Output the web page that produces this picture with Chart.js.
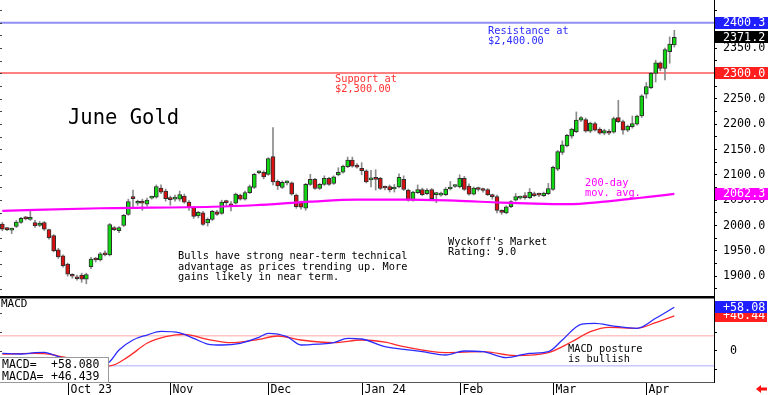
<!DOCTYPE html>
<html><head><meta charset="utf-8">
<script src="https://cdn.jsdelivr.net/npm/chart.js@4.4.1/dist/chart.umd.min.js"></script>
<style>
html,body{margin:0;padding:0;background:#fff;}
#wrap{position:relative;width:768px;height:395px;overflow:hidden;background:#fff;font-family:'DejaVu Sans Mono',monospace;}
#c1{position:absolute;left:0;top:0;}
#c2{position:absolute;left:0;top:297px;}
.t{position:absolute;font-size:10.3px;line-height:10.4px;white-space:pre;color:#000;}
#leg{position:absolute;left:-1px;top:357px;width:108px;height:24px;background:#fff;border:1px solid #9a9a9a;font-size:11.5px;line-height:12px;}
#leg span{position:absolute;white-space:pre;}
</style></head><body>
<div id="wrap">
<canvas id="c1" width="768" height="297"></canvas>
<canvas id="c2" width="768" height="98"></canvas>
<div class="t" style="left:68px;top:107px;font-size:20.5px;line-height:21px;">June Gold</div>
<div class="t" style="left:488px;top:25px;color:#2b2bff;">Resistance at
$2,400.00</div>
<div class="t" style="left:335px;top:73px;color:#ff3030;">Support at
$2,300.00</div>
<div class="t" style="left:585px;top:177px;color:#ff00ff;">200-day
mov. avg.</div>
<div class="t" style="left:178px;top:250px;line-height:10.5px;">Bulls have strong near-term technical
advantage as prices trending up. More
gains likely in near term.</div>
<div class="t" style="left:448px;top:236px;">Wyckoff's Market
Rating: 9.0</div>
<div class="t" style="left:1px;top:299px;font-size:11px;">MACD</div>
<div class="t" style="left:568px;top:343px;">MACD posture
is bullish</div>
<div id="leg"><span style="left:2px;top:0px">MACD=</span><span style="left:51px;top:0px">+58.080</span><span style="left:2px;top:12px">MACDA=</span><span style="left:51px;top:12px">+46.439</span></div>
</div>
<script>
// ---- trading sessions (categories) ----
const sessionMonths = ['2023-09','2023-10','2023-11','2023-12','2024-01','2024-02','2024-03','2024-04'];
const sessionDays = [
  [12,13,14,15,18,19,20,21,22,25,26,27,28,29],
  [2,3,4,5,6,9,10,11,12,13,16,17,18,19,20,23,24,25,26,27,30,31],
  [1,2,3,6,7,8,9,10,13,14,15,16,17,20,21,22,24,27,28,29,30],
  [1,4,5,6,7,8,11,12,13,14,15,18,19,20,21,22,26,27,28,29],
  [2,3,4,5,8,9,10,11,12,16,17,18,19,22,23,24,25,26,29,30,31],
  [1,2,5,6,7,8,9,12,13,14,15,16,20,21,22,23,26,27,28,29],
  [1,4,5,6,7,8,11,12,13,14,15,18,19,20,21,22,25,26,27,28],
  [1,2,3,4,5,8,9,10,11,12,15,16,17,18,19]
];
const monthTickDates = ['2023-10-02','2023-11-01','2023-12-01','2024-01-02','2024-02-01','2024-03-01','2024-04-01'];
const monthTickLabels = ['Oct 23','Nov','Dec','Jan 24','Feb','Mar','Apr'];

// ---- daily June gold OHLC (Sep 12 2023 .. Apr 9 2024) ----
const opens = [
2003,1994,1991,1998,2006,2015,2012,2006,2000,2006,
1992,1980,1952,1940,1924,1902,1899,1902,1894,1919,
1934,1932,1946,1942,1995,1990,2000,2022,2055,2044,
2048,2042,2054,2056,2074,2068,2052,2052,2052,2058,
2046,2036,2019,2025,2005,2012,2027,2024,2047,2041,
2044,2060,2052,2065,2075,2104,2105,2101,2136,2087,
2075,2084,2084,2060,2045,2034,2081,2091,2073,2081,
2093,2083,2100,2105,2116,2129,2119,2113,2108,2090,
2092,2093,2075,2077,2072,2076,2091,2070,2050,2065,
2071,2063,2071,2061,2060,2061,2072,2077,2076,2093,
2078,2062,2074,2072,2071,2058,2057,2028,2025,2037,
2050,2054,2056,2055,2063,2061,2059,2063,2071,2111,
2144,2157,2176,2185,2208,2209,2186,2201,2190,2182,
2186,2184,2213,2205,2188,2195,2200,2216,2259,2272,
2300,2321,2310,2343,2356];
const highs = [
2006,1996,1995,2010,2016,2018,2028,2010,2008,2008,
1993,1982,1955,1942,1926,1905,1902,1906,1906,1937,
1937,1947,1950,2004,1998,1998,2022,2052,2070,2050,
2052,2054,2058,2080,2080,2072,2058,2060,2068,2062,
2049,2038,2028,2028,2015,2030,2030,2050,2050,2047,
2064,2062,2068,2080,2103,2108,2108,2134,2193,2090,
2088,2088,2086,2062,2048,2083,2101,2093,2083,2098,
2095,2098,2114,2119,2135,2135,2122,2124,2110,2109,
2110,2095,2078,2080,2081,2102,2098,2072,2068,2080,
2074,2073,2073,2065,2066,2075,2087,2080,2100,2097,
2082,2076,2076,2074,2073,2062,2060,2031,2039,2049,
2063,2058,2065,2073,2066,2064,2066,2083,2117,2148,
2167,2180,2192,2224,2215,2212,2204,2204,2193,2190,
2189,2214,2247,2208,2198,2216,2218,2258,2282,2302,
2326,2323,2350,2372,2385];
const lows = [
1990,1990,1984,1996,2004,2011,2010,1996,1998,1990,
1973,1948,1935,1918,1900,1896,1892,1888,1885,1915,
1928,1930,1940,1940,1990,1986,1998,2020,2034,2040,
2030,2038,2052,2054,2063,2048,2040,2048,2048,2044,
2030,2014,2015,2000,1999,2010,2020,2022,2040,2029,
2042,2050,2050,2063,2073,2102,2092,2099,2080,2071,
2073,2080,2060,2034,2032,2030,2079,2071,2071,2079,
2079,2081,2098,2103,2114,2115,2113,2100,2084,2076,
2070,2071,2070,2066,2066,2074,2069,2048,2048,2063,
2059,2061,2050,2045,2058,2059,2070,2075,2074,2069,
2060,2060,2068,2066,2059,2052,2025,2022,2023,2035,
2048,2052,2052,2053,2057,2057,2057,2061,2069,2108,
2140,2155,2172,2183,2205,2184,2183,2186,2180,2179,
2179,2182,2203,2180,2185,2192,2198,2213,2251,2270,
2283,2305,2287,2320,2352];
const closes = [
1993,1992,1993,2007,2014,2013,2015,1999,2005,1993,
1976,1950,1938,1921,1904,1900,1895,1894,1903,1934,
1932,1944,1942,2002,1992,1996,2020,2047,2053,2046,
2044,2050,2056,2077,2066,2053,2051,2054,2061,2046,
2036,2018,2026,2002,2012,2028,2022,2046,2045,2039,
2062,2052,2065,2077,2101,2106,2096,2132,2086,2078,
2085,2086,2062,2037,2036,2081,2091,2073,2081,2093,
2081,2096,2105,2117,2129,2117,2115,2108,2086,2092,
2091,2073,2074,2070,2073,2095,2071,2050,2066,2071,
2061,2070,2053,2063,2063,2072,2076,2078,2093,2071,
2062,2074,2071,2069,2061,2057,2030,2026,2037,2047,
2057,2056,2055,2066,2059,2060,2064,2073,2115,2146,
2159,2178,2190,2208,2213,2186,2202,2188,2182,2187,
2182,2211,2205,2188,2196,2201,2216,2256,2274,2300,
2321,2310,2347,2358,2371.2];

// ---- 200-day moving average (read points) ----
const maDates = ['2023-09-12','2023-10-11','2023-11-14','2023-11-28','2023-12-14','2023-12-29','2024-01-17','2024-01-31','2024-02-14','2024-02-26','2024-03-06','2024-03-18','2024-03-26','2024-04-02','2024-04-09'];
const maValues = [2029,2034,2037,2040,2047,2051,2051,2049,2045,2043,2042,2047,2053,2057,2062.3];

// ---- MACD (read points) ----
const macdDates = ['2023-09-12','2023-09-18','2023-09-21','2023-09-25','2023-09-26','2023-09-28','2023-10-03','2023-10-06','2023-10-10','2023-10-13','2023-10-17','2023-10-20','2023-10-25','2023-10-30','2023-11-03','2023-11-08','2023-11-13','2023-11-16','2023-11-22','2023-11-29','2023-12-01','2023-12-07','2023-12-12','2023-12-18','2023-12-21','2023-12-27','2024-01-02','2024-01-09','2024-01-16','2024-01-22','2024-01-29','2024-02-02','2024-02-08','2024-02-15','2024-02-23','2024-02-29','2024-03-05','2024-03-11','2024-03-14','2024-03-20','2024-03-27','2024-04-03','2024-04-09'];
const macdValues = [-3.4,-4.3,-2.5,-2.0,-3.4,-7.8,-16,-25,-24,-14.5,1,14.4,21,26,24,16.6,9,7.7,10,18,23.3,18.8,7.7,9,10.8,16.6,15.7,5.5,2,-1.2,-5.6,-0.3,-1.2,-9.2,-3.4,-1.2,14.4,35.3,36.6,33,30,43.3,58.08];
const signalDates = ['2023-09-12','2023-09-21','2023-09-26','2023-09-28','2023-10-04','2023-10-09','2023-10-13','2023-10-19','2023-10-25','2023-10-31','2023-11-06','2023-11-13','2023-11-20','2023-11-29','2023-12-05','2023-12-12','2023-12-21','2024-01-02','2024-01-09','2024-01-16','2024-01-29','2024-02-08','2024-02-20','2024-02-29','2024-03-07','2024-03-13','2024-03-19','2024-03-27','2024-04-03','2024-04-09'];
const signalValues = [-4.3,-3.4,-4.3,-7,-12,-17,-20,-7.8,10,18.8,22,15.3,10.8,15.3,19.7,14.4,10.8,14.4,11.5,5.5,-2.5,-1.2,-6.5,-2.5,12,25.5,31.3,30,37.5,46.44];

// ---- reference levels & value tags ----
const resistanceLevel = 2400;
const supportLevel = 2300;
const priceTagValues = [2400.3, 2371.2, 2300.0, 2062.3];
const priceTagColors = ['#1f1fff', '#000000', '#ff1f1f', '#ff00ff'];
const macdLevels = [20, -20];
const macdTagValues = [46.44, 58.08];
const macdTagTexts = ['+46.44', '+58.08'];
const macdTagColors = ['#ff1f1f', '#1f1fff'];

// ---- build ----
const pad2 = n => (n < 10 ? '0' : '') + n;
const labels = [];
sessionMonths.forEach((m, k) => sessionDays[k].forEach(d => labels.push(m + '-' + pad2(d))));
const toPoints = (ds, vs) => ds.map((d, i) => ({x: d, y: vs[i]}));
const GREEN = '#10d810', RED = '#d81010';
const bodyColors = closes.map((c, i) => c >= opens[i] ? GREEN : RED);

Chart.defaults.font.family = "'DejaVu Sans Mono', monospace";
Chart.defaults.color = '#000';

function hline(ctx, x0, x1, y, color, w) {
  ctx.save(); ctx.strokeStyle = color; ctx.lineWidth = w;
  ctx.beginPath(); ctx.moveTo(x0, y); ctx.lineTo(x1, y); ctx.stroke(); ctx.restore();
}
function tag(ctx, x0, x1, yc, color, text) {
  ctx.save();
  ctx.fillStyle = color; ctx.fillRect(x0, Math.round(yc - 6), x1 - x0, 12);
  ctx.fillStyle = '#fff'; ctx.font = "11.7px 'DejaVu Sans Mono', monospace";
  ctx.textBaseline = 'middle'; ctx.textAlign = 'left';
  ctx.fillText(text, x0 + 8, yc + 0.5);
  ctx.restore();
}
function leftTicks(chart) {
  const {ctx, scales: {y}} = chart;
  ctx.save(); ctx.strokeStyle = '#444'; ctx.lineWidth = 1;
  y.ticks.forEach(t => {
    const py = Math.round(y.getPixelForValue(t.value)) + 0.5;
    ctx.beginPath(); ctx.moveTo(0, py); ctx.lineTo(2, py); ctx.stroke();
  });
  ctx.restore();
}
function fitAxis(s) { s.width = 54; s.paddingTop = 0; s.paddingBottom = 0; }

const mainDeco = {
  id: 'mainDeco',
  beforeDatasetsDraw(chart) {
    const {ctx, chartArea: a, scales: {y}} = chart;
    hline(ctx, a.left, a.right, y.getPixelForValue(resistanceLevel), '#8f8ff5', 2);
    hline(ctx, a.left, a.right, Math.round(y.getPixelForValue(supportLevel)), '#ff8080', 2);
  },
  afterDraw(chart) {
    const {ctx, chartArea: a, scales: {y}} = chart;
    leftTicks(chart);
    hline(ctx, 0, a.right, chart.height - 0.5, '#000', 1);
    priceTagValues.forEach((v, i) => tag(ctx, a.right + 1, chart.width, y.getPixelForValue(v), priceTagColors[i], v.toFixed(1)));
  }
};

new Chart(document.getElementById('c1'), {
  type: 'bar',
  data: {
    labels,
    datasets: [
      {type: 'line', label: '200-day', data: toPoints(maDates, maValues), borderColor: '#ff00ff', borderWidth: 2.2, pointRadius: 0, cubicInterpolationMode: 'monotone', order: 0},
      {label: 'body', data: opens.map((o, i) => [o, closes[i]]), backgroundColor: bodyColors, borderColor: '#303030', borderWidth: 1, borderSkipped: false, barThickness: 4, minBarLength: 2, grouped: false, order: 1},
      {label: 'wick', data: lows.map((l, i) => [l, highs[i]]), backgroundColor: '#8a8a8a', barThickness: 1, grouped: false, order: 2}
    ]
  },
  options: {
    responsive: false, animation: false, events: [],
    layout: {padding: 0},
    plugins: {legend: {display: false}, tooltip: {enabled: false}},
    scales: {
      x: {type: 'category', offset: true, display: false},
      y: {
        position: 'right', min: 1859, max: 2444.8,
        ticks: {stepSize: 25, includeBounds: false, autoSkip: false, padding: 6, font: {size: 11.7}, color: '#000',
          callback: v => (v % 50 === 0 && v >= 1900 && v <= 2350) ? v.toFixed(1) : ''},
        grid: {drawOnChartArea: false, tickLength: 3, color: '#000'},
        border: {color: '#000', width: 1},
        afterFit: fitAxis
      }
    }
  },
  plugins: [mainDeco]
});

const macdDeco = {
  id: 'macdDeco',
  beforeDatasetsDraw(chart) {
    const {ctx, chartArea: a, scales: {y}} = chart;
    hline(ctx, a.left, a.right, y.getPixelForValue(macdLevels[0]), '#ffc4c4', 1.5);
    hline(ctx, a.left, a.right, y.getPixelForValue(macdLevels[1]), '#c8c8ff', 1.5);
  },
  afterDraw(chart) {
    const {ctx, chartArea: a, scales: {x, y}} = chart;
    leftTicks(chart);
    hline(ctx, 0, a.right, 0.75, '#000', 1.5);
    hline(ctx, 0, a.right, Math.round(a.bottom) + 0.5, '#555', 1);
    ctx.save();
    ctx.strokeStyle = '#000'; ctx.lineWidth = 1;
    ctx.fillStyle = '#000'; ctx.font = "11.5px 'DejaVu Sans Mono', monospace";
    ctx.textBaseline = 'alphabetic'; ctx.textAlign = 'left';
    monthTickDates.forEach((d, i) => {
      const px = Math.round(x.getPixelForValue(labels.indexOf(d))) + 0.5;
      ctx.beginPath(); ctx.moveTo(px, a.bottom + 1); ctx.lineTo(px, chart.height); ctx.stroke();
      ctx.fillText(monthTickLabels[i], px + 2, chart.height - 2);
    });
    ctx.restore();
    macdTagValues.forEach((v, i) => tag(ctx, a.right + 1, chart.width - 1, y.getPixelForValue(v), macdTagColors[i], macdTagTexts[i]));
    // small red arrow (bottom right)
    ctx.save(); ctx.fillStyle = '#ff1010';
    ctx.beginPath();
    ctx.moveTo(756, 92); ctx.lineTo(761, 88); ctx.lineTo(761, 90.5); ctx.lineTo(767, 90.5);
    ctx.lineTo(767, 93.5); ctx.lineTo(761, 93.5); ctx.lineTo(761, 96); ctx.closePath(); ctx.fill();
    ctx.restore();
  }
};

new Chart(document.getElementById('c2'), {
  type: 'line',
  data: {
    labels,
    datasets: [
      {label: 'MACD', data: toPoints(macdDates, macdValues), borderColor: '#2a2aff', borderWidth: 1.3, pointRadius: 0, cubicInterpolationMode: 'monotone'},
      {label: 'MACDA', data: toPoints(signalDates, signalValues), borderColor: '#ff2a2a', borderWidth: 1.3, pointRadius: 0, cubicInterpolationMode: 'monotone'}
    ]
  },
  options: {
    responsive: false, animation: false, events: [],
    layout: {padding: {top: 0, bottom: 13, left: 0, right: 0}},
    plugins: {legend: {display: false}, tooltip: {enabled: false}},
    scales: {
      x: {type: 'category', offset: true, display: false},
      y: {
        position: 'right', min: -41.6, max: 71.7,
        ticks: {stepSize: 25, includeBounds: false, autoSkip: false, padding: 13, font: {size: 11.7}, color: '#000',
          callback: v => v === 0 ? '0' : ''},
        grid: {drawOnChartArea: false, tickLength: 3, color: '#000'},
        border: {color: '#000', width: 1},
        afterFit: fitAxis
      }
    }
  },
  plugins: [macdDeco]
});
</script>
</body></html>
